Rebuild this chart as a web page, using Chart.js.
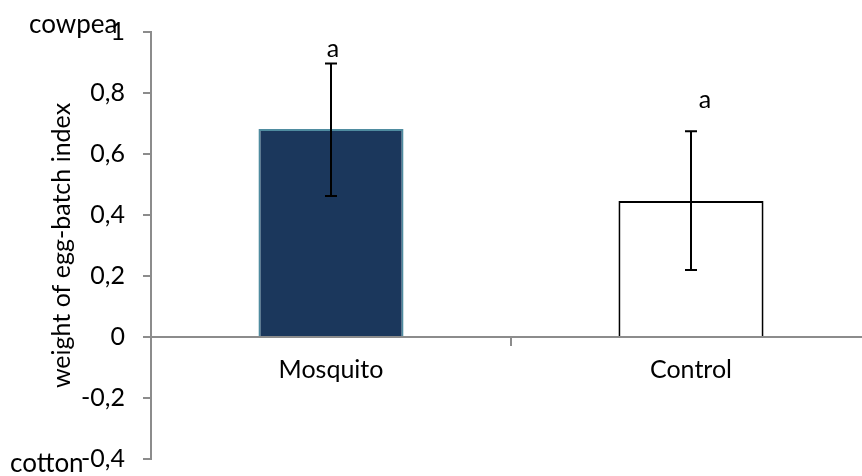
<!DOCTYPE html>
<html>
<head>
<meta charset="utf-8">
<script src="https://cdn.jsdelivr.net/npm/chart.js@4/dist/chart.umd.min.js"></script>
<style>
  html, body { margin: 0; padding: 0; background: #ffffff; overflow: hidden; }
  #frame { position: relative; width: 862px; height: 476px; overflow: hidden; }
  #wrap { position: absolute; left: 0; top: 0; width: 871px; height: 476px; }
</style>
</head>
<body>
<div id="frame"><div id="wrap"><canvas id="chart"></canvas></div></div>
<script>
// Egg-batch weight index by treatment
const categories = ['Mosquito', 'Control'];
const meanValues = [0.682, 0.446];
const errorLow   = [0.462, 0.220];
const errorHigh  = [0.897, 0.675];
const groupLetters = ['a', 'a'];
const yTickValues = [-0.4, -0.2, 0, 0.2, 0.4, 0.6, 0.8, 1];

const FONT = 'Lato, "Open Sans", sans-serif';
const AXIS_GREY = '#8c8c8c';

const fmtComma = v => {
  const r = Math.round(v * 10) / 10;
  return String(r).replace('.', ',');
};

// Error bars and significance letters drawn over the bars
const errorBarPlugin = {
  id: 'errorBars',
  afterDatasetsDraw(chart, args, opts) {
    const { ctx } = chart;
    const y = chart.scales.y;
    const meta = chart.getDatasetMeta(0);
    ctx.save();
    ctx.strokeStyle = '#000000';
    ctx.lineWidth = 2;
    meta.data.forEach((bar, i) => {
      const x = Math.round(bar.x);
      const yTop = y.getPixelForValue(errorHigh[i]);
      const yBot = y.getPixelForValue(errorLow[i]);
      ctx.beginPath();
      ctx.moveTo(x, yTop); ctx.lineTo(x, yBot);
      ctx.moveTo(x - 6, yTop); ctx.lineTo(x + 6, yTop);
      ctx.moveTo(x - 6, yBot); ctx.lineTo(x + 6, yBot);
      ctx.stroke();
      // letter above the upper cap
      ctx.fillStyle = '#000000';
      ctx.font = '25px ' + FONT;
      ctx.textAlign = 'center';
      ctx.textBaseline = 'middle';
      ctx.fillText(groupLetters[i], x + opts.letterShift[i], yTop - opts.letterLift[i]);
    });
    ctx.restore();
  }
};

// Direction labels at the ends of the value axis
const endLabelPlugin = {
  id: 'endLabels',
  afterDraw(chart) {
    const { ctx } = chart;
    ctx.save();
    ctx.fillStyle = '#000000';
    ctx.font = '26px ' + FONT;
    ctx.textAlign = 'left';
    ctx.textBaseline = 'alphabetic';
    ctx.fillText('cowpea', 29, 33);
    ctx.fillText('cotton', 10, 472);
    ctx.restore();
  }
};

new Chart(document.getElementById('chart'), {
  type: 'bar',
  data: {
    labels: categories,
    datasets: [{
      data: meanValues,
      backgroundColor: ['#1b375c', '#ffffff'],
      borderColor: ['#4f8ca0', '#000000'],
      borderWidth: 2,
      borderSkipped: 'start',
      categoryPercentage: 1,
      barPercentage: 0.403
    }]
  },
  options: {
    responsive: true,
    maintainAspectRatio: false,
    devicePixelRatio: 1,
    animation: false,
    layout: { padding: { top: 32, bottom: 17, left: 0, right: 0 } },
    plugins: {
      legend: { display: false },
      tooltip: { enabled: false },
      errorBars: { letterLift: [14, 31], letterShift: [2, 14] }
    },
    scales: {
      x: {
        position: { y: 0 },
        offset: true,
        grid: {
          display: true,
          offset: true,
          drawOnChartArea: false,
          drawTicks: true,
          tickLength: 8,
          color: AXIS_GREY,
          lineWidth: 2
        },
        border: { display: true, color: AXIS_GREY, width: 2 },
        ticks: {
          color: '#000000',
          font: { family: FONT, size: 25 },
          padding: 10,
          maxRotation: 0
        }
      },
      y: {
        min: -0.4,
        max: 1,
        afterFit(scale) {
          scale.width = 151;
          // the fixed layout padding already leaves room for the end labels
          scale.paddingTop = 0;
          scale.paddingBottom = 0;
        },
        afterBuildTicks(scale) { scale.ticks = yTickValues.map(v => ({ value: v })); },
        grid: {
          display: true,
          drawOnChartArea: false,
          drawTicks: true,
          tickLength: 8,
          color: AXIS_GREY,
          lineWidth: 2
        },
        border: { display: true, color: AXIS_GREY, width: 2 },
        ticks: {
          color: '#000000',
          font: { family: FONT, size: 25 },
          padding: 18,
          callback: v => fmtComma(v)
        },
        title: {
          display: true,
          text: 'weight of egg-batch index',
          color: '#000000',
          font: { family: FONT, size: 25 },
          padding: { top: 47, bottom: 0 }
        }
      }
    }
  },
  plugins: [errorBarPlugin, endLabelPlugin]
});
</script>
</body>
</html>
